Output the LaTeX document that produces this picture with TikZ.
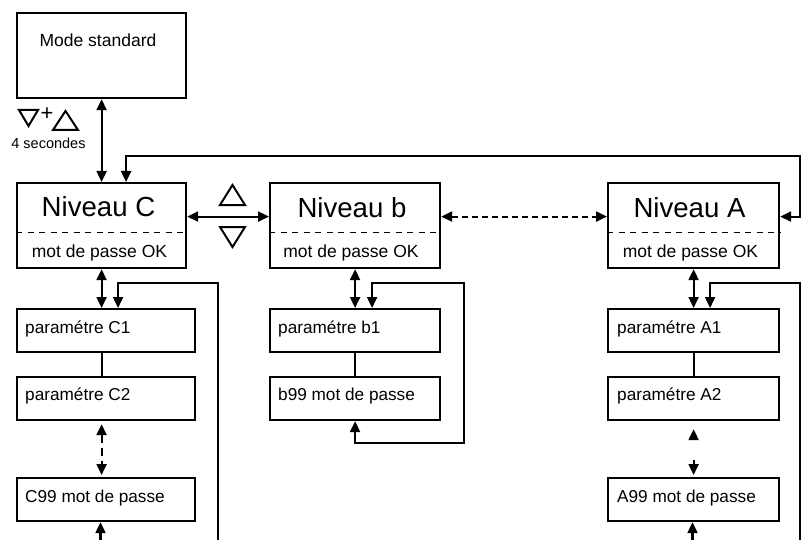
\documentclass[tikz,border=0pt]{standalone}
\usepackage{fontspec}
\setmainfont{Liberation Sans}
\usetikzlibrary{arrows.meta,calc}
\begin{document}
\begin{tikzpicture}[x=1pt,y=-1pt,
  box/.style={draw,line width=2.2pt,inner sep=0pt,anchor=north west},
  nbox/.style={box,minimum height=85pt},
  pbox/.style={box,minimum height=43pt},
  con/.style={line width=2.2pt,>={Triangle[length=11pt,width=10pt]}},
  sep/.style={line width=0.9pt,dash pattern=on 6pt off 5.5pt},
  tri/.style={line width=2pt,line join=miter},
  big/.style={inner sep=0pt,anchor=base,font=\fontsize{27.6}{30}\selectfont},
  med/.style={inner sep=0pt,anchor=base,font=\fontsize{17.5}{20}\selectfont},
  ptxt/.style={inner sep=0pt,anchor=base west,font=\fontsize{17.2}{20}\selectfont},
]
\useasboundingbox (0,0) rectangle (802,540);
% boxes
\node[box,minimum width=169pt,minimum height=85pt] (ms) at (16,12) {};
\node[nbox,minimum width=169pt] (NC) at (16,182) {};
\node[nbox,minimum width=170pt] (Nb) at (269,182) {};
\node[nbox,minimum width=171pt] (NA) at (607,182) {};
\node[pbox,minimum width=178pt] (C1) at (16,308) {};
\node[pbox,minimum width=178pt] (C2) at (16,376) {};
\node[pbox,minimum width=178pt] (C99) at (16,477) {};
\node[pbox,minimum width=170pt] (b1) at (269,308) {};
\node[pbox,minimum width=170pt] (b99) at (269,376) {};
\node[pbox,minimum width=171pt] (A1) at (607,308) {};
\node[pbox,minimum width=171pt] (A2) at (607,376) {};
\node[pbox,minimum width=171pt] (A99) at (607,477) {};
% dashed separators
\draw[sep] ($(NC.north west)+(0,50)$) -- ($(NC.north east)+(0,50)$);
\draw[sep] ($(Nb.north west)+(0,50)$) -- ($(Nb.north east)+(0,50)$);
\draw[sep] ($(NA.north west)+(0,50)$) -- ($(NA.north east)+(0,50)$);
% texts
\node[med] (tms) at (98,46.7) {Mode standard};
\node[big] (tNC) at (98.5,216.7) {Niveau C};
\node[big] (tNb) at (352,217) {Niveau b};
\node[big] (tNA) at (689.5,217) {Niveau A};
\node[med] (pNC) at (99.5,257) {mot de passe OK};
\node[med] (pNb) at (351,257) {mot de passe OK};
\node[med] (pNA) at (690.5,257) {mot de passe OK};
\node[ptxt] (tC1) at (25,333) {paramétre C1};
\node[ptxt] (tC2) at (25,400) {paramétre C2};
\node[ptxt] (tC99) at (25,502) {C99 mot de passe};
\node[ptxt] (tb1) at (278,333) {paramétre b1};
\node[ptxt] (tb99) at (278,400) {b99 mot de passe};
\node[ptxt] (tA1) at (617,333) {paramétre A1};
\node[ptxt] (tA2) at (617,400) {paramétre A2};
\node[ptxt] (tA99) at (617,502) {A99 mot de passe};
\node[inner sep=0pt,anchor=base,font=\fontsize{14.5}{17}\selectfont] (sec) at (48.5,149) {4 secondes};
\node[inner sep=0pt,anchor=center,font=\fontsize{22}{24}\selectfont] (plus) at (47,114) {+};
% triangles (keys)
\draw[tri] (19,110) -- (38,110) -- (28.5,126) -- cycle;
\draw[tri] (53,130) -- (78,130) -- (65.5,111) -- cycle;
\draw[tri] (220,205) -- (245,205) -- (232.5,185) -- cycle;
\draw[tri] (220,227) -- (245,227) -- (232.5,247) -- cycle;
% coordinates
\coordinate (tr) at (800,156);
\coordinate (cl) at (218,283);
\coordinate (cbl) at (218,540);
\coordinate (cb) at (100.5,540);
\coordinate (bl1) at (464,283);
\coordinate (bl2) at (464,443);
\coordinate (al) at (800,283);
\coordinate (abl) at (800,540);
\coordinate (ab) at (692.5,540);
% connectors top
\draw[con,<->] (ms.south) -- (NC.north);
\draw[con,<->] ($(NC.north)+(24.5,0)$) |- (tr) |- ($(NA.east)+(0,-9)$);
\draw[con,<->] ($(NC.east)+(0,-9)$) -- ($(Nb.west)+(0,-9)$);
\draw[con,<->,dash pattern=on 6pt off 4pt] ($(Nb.east)+(0,-9)$) -- ($(NA.west)+(0,-9)$);
% column C
\draw[con,<->] (NC.south) -- (NC.south |- C1.north);
\draw[con,->] (cbl) -- (cl) -| ($(NC.south |- C1.north)+(16.5,0)$);
\draw[con] (NC.south |- C1.south) -- (NC.south |- C2.north);
\draw[con,<->,dash pattern=on 8pt off 5pt,shorten <=3pt,shorten >=2pt] (NC.south |- C2.south) -- (NC.south |- C99.north);
\draw[con,->] (cb) -- (cb |- C99.south);
% column b
\draw[con,<->] (Nb.south) -- (Nb.south |- b1.north);
\draw[con,<->] ($(Nb.south |- b1.north)+(17,0)$) |- (bl1) -- (bl2) -| (Nb.south |- b99.south);
\draw[con] (Nb.south |- b1.south) -- (Nb.south |- b99.north);
% column A
\draw[con,<->] (NA.south) -- (NA.south |- A1.north);
\draw[con,<-] ($(NA.south |- A1.north)+(16.5,0)$) |- (al) -- (abl);
\draw[con] (NA.south |- A1.south) -- (NA.south |- A2.north);
\draw[con,->] ($(NA.south |- A2.south)+(0,18)$) -- ($(NA.south |- A2.south)+(0,8)$);
\draw[con,->] ($(NA.south |- A99.north)+(0,-17)$) -- ($(NA.south |- A99.north)+(0,-2)$);
\draw[con,->] (ab) -- (ab |- A99.south);
\end{tikzpicture}
\end{document}
